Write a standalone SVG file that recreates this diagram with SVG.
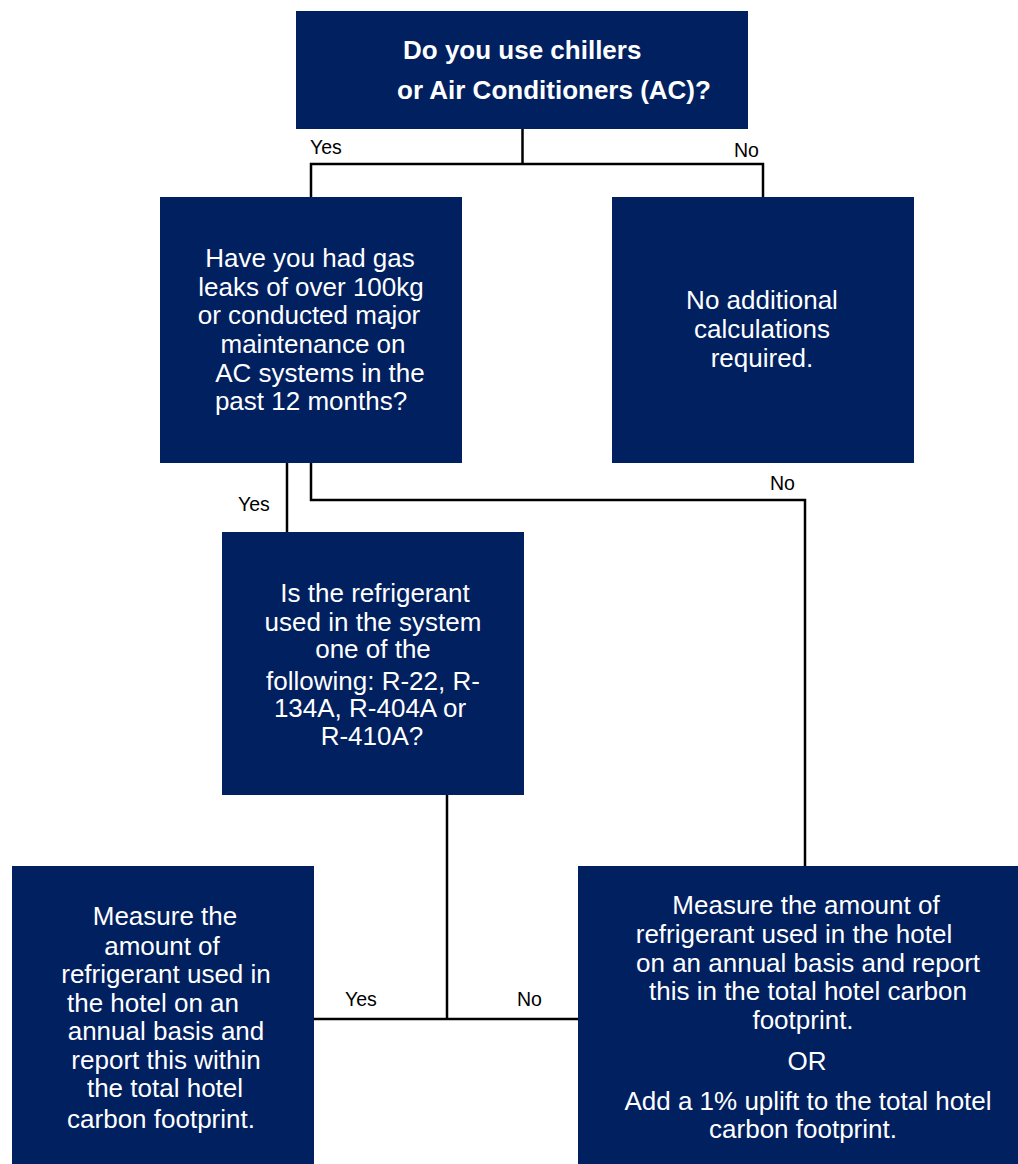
<svg xmlns="http://www.w3.org/2000/svg" width="1018" height="1164" viewBox="0 0 1018 1164">
<style>
.box{fill:#002060}
.t{font-family:"Liberation Sans",Arial,sans-serif;font-size:26px;fill:#ffffff;text-anchor:middle}
.tb{font-family:"Liberation Sans",Arial,sans-serif;font-size:26px;font-weight:bold;fill:#ffffff}
.lbl{font-family:"Liberation Sans",Arial,sans-serif;font-size:19.5px;fill:#000000}
.c{fill:none;stroke:#000000;stroke-width:2.5}
</style>
<rect width="1018" height="1164" fill="#ffffff"/>
<g id="connectors">
<path class="c" d="M522.5 129 V164 M311 164 H763 M311 162.75 V197 M763 162.75 V197"/>
<path class="c" d="M287 463 V532"/>
<path class="c" d="M311 463 V500 H805 V866"/>
<path class="c" d="M447 795 V1019 M314 1019 H578"/>
<text class="lbl" x="310" y="154">Yes</text>
<text class="lbl" x="734" y="157">No</text>
<text class="lbl" x="238" y="511">Yes</text>
<text class="lbl" x="770" y="490">No</text>
<text class="lbl" x="345" y="1006">Yes</text>
<text class="lbl" x="517" y="1006">No</text>
</g>
<g id="q1">
<rect class="box" x="296" y="11" width="452" height="118"/>
<text class="tb" x="403" y="59">Do you use chillers</text>
<text class="tb" x="397" y="99">or Air Conditioners (AC)?</text>
</g>
<g id="q2">
<rect class="box" x="160" y="197" width="302" height="266"/>
<text class="t"><tspan x="310" y="267">Have you had gas</tspan><tspan x="311" y="296">leaks of over 100kg</tspan><tspan x="309" y="324">or conducted major</tspan><tspan x="313" y="353">maintenance on</tspan><tspan x="320" y="382">AC systems in the</tspan><tspan x="311" y="410">past 12 months?</tspan></text>
</g>
<g id="no-calc">
<rect class="box" x="612" y="197" width="302" height="266"/>
<text class="t"><tspan x="762" y="309">No additional</tspan><tspan x="762" y="338">calculations</tspan><tspan x="762" y="367">required.</tspan></text>
</g>
<g id="q3">
<rect class="box" x="222" y="532" width="302" height="263"/>
<text class="t"><tspan x="375" y="602">Is the refrigerant</tspan><tspan x="373" y="631">used in the system</tspan><tspan x="373" y="658">one of the</tspan><tspan x="373" y="690">following: R-22, R-</tspan><tspan x="370" y="717">134A, R-404A or</tspan><tspan x="372" y="745">R-410A?</tspan></text>
</g>
<g id="measure-left">
<rect class="box" x="12" y="866" width="302" height="298"/>
<text class="t"><tspan x="165" y="925">Measure the</tspan><tspan x="162" y="955">amount of</tspan><tspan x="166" y="983">refrigerant used in</tspan><tspan x="153" y="1012">the hotel on an</tspan><tspan x="166" y="1040">annual basis and</tspan><tspan x="166" y="1069">report this within</tspan><tspan x="165" y="1097">the total hotel</tspan><tspan x="161" y="1128">carbon footprint.</tspan></text>
</g>
<g id="measure-right">
<rect class="box" x="578" y="866" width="440" height="298"/>
<text class="t"><tspan x="806" y="914">Measure the amount of</tspan><tspan x="794" y="943">refrigerant used in the hotel</tspan><tspan x="808" y="972">on an annual basis and report</tspan><tspan x="808" y="1000">this in the total hotel carbon</tspan><tspan x="803" y="1029">footprint.</tspan><tspan x="807" y="1070">OR</tspan><tspan x="808" y="1110">Add a 1% uplift to the total hotel</tspan><tspan x="803" y="1138">carbon footprint.</tspan></text>
</g>
</svg>
